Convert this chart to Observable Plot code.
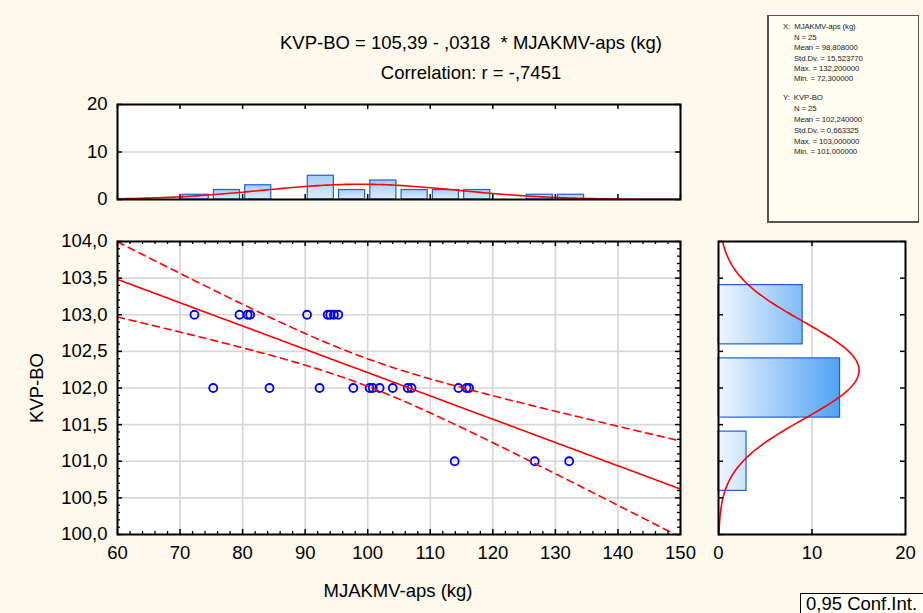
<!DOCTYPE html>
<html><head><meta charset="utf-8">
<script src="https://cdn.jsdelivr.net/npm/d3@7"></script>
<script src="https://cdn.jsdelivr.net/npm/@observablehq/plot@0.6"></script>
<style>
html,body{margin:0;padding:0;background:#fdf8ec;}
#wrap{position:relative;width:923px;height:613px;background:#fdf8ec;font-family:"Liberation Sans",Arial,sans-serif;color:#000;overflow:hidden;}
.abs{position:absolute;white-space:pre;line-height:1.15;}
#stats{position:absolute;left:767px;top:15px;width:152px;height:208px;border:1px solid #555;border-left-width:2px;border-bottom-width:2px;background:#fffcf2;box-sizing:border-box;}
#stats div{position:absolute;font-size:7.8px;line-height:9px;color:#222;white-space:pre;letter-spacing:-0.1px;}
#ci{position:absolute;left:800px;top:593px;width:123px;height:20px;border:1.5px solid #000;border-right:none;border-bottom:none;background:#fffdf6;box-sizing:border-box;font-size:18.5px;line-height:17px;padding:1px 0 0 5px;white-space:pre;}
svg{position:absolute;overflow:visible;}
</style></head>
<body><div id="wrap"></div>
<script>
// ---------- data ----------
const mjakmv = [72.3, 79.5, 80.8, 81.2, 90.3, 93.6, 94.0, 94.6, 95.3,
                75.3, 84.3, 92.3, 97.7, 100.3, 100.8, 101.9, 104.0, 106.4, 107.0, 114.5, 115.8, 116.2,
                113.9, 126.7, 132.2];
const kvpbo = [103, 103, 103, 103, 103, 103, 103, 103, 103,
               102, 102, 102, 102, 102, 102, 102, 102, 102, 102, 102, 102, 102,
               101, 101, 101];
const intercept = 105.39, slope = -0.0318, corr = -0.7451;
const nObs = 25;
const xMean = 98.808, xSD = 15.52377, xMax = 132.2, xMin = 72.3;
const yMean = 102.24, ySD = 0.663325, yMax = 103.0, yMin = 101.0;
const xTicks = [60, 70, 80, 90, 100, 110, 120, 130, 140, 150];
const yTicks = [100, 100.5, 101, 101.5, 102, 102.5, 103, 103.5, 104];
const countTicks = [0, 10, 20];
const xBinEdges = [70, 75, 80, 85, 90, 95, 100, 105, 110, 115, 120, 125, 130, 135];
const yBinEdges = [100.5, 101.5, 102.5, 103.5];
const confLevel = 0.95, tCrit = 2.0687;

// ---------- helpers ----------
const comma = f => v => d3.format(f)(v).replace(".", ",");
const wrap = document.getElementById("wrap");
const FONT = "Liberation Sans, Arial, sans-serif";
const FS = "18.5px";
const pdf = (v, m, s) => Math.exp(-0.5 * ((v - m) / s) ** 2) / (s * Math.sqrt(2 * Math.PI));
function place(svg, left, top) { svg.style.left = left + "px"; svg.style.top = top + "px"; wrap.appendChild(svg); }
function addGradient(svg, id, attrs, stops) {
  const defs = d3.create("svg:defs");
  const g = defs.append("linearGradient").attr("id", id);
  Object.entries(attrs).forEach(([k, v]) => g.attr(k, v));
  stops.forEach(([o, c]) => g.append("stop").attr("offset", o).attr("stop-color", c));
  svg.insertBefore(defs.node(), svg.firstChild);
}
function edgeTicksX(vals, H, len, sw) {
  return [Plot.tickX(vals, {x: d => d, insetTop: H - len, stroke: "#000", strokeWidth: sw}),
          Plot.tickX(vals, {x: d => d, insetBottom: H - len, stroke: "#000", strokeWidth: sw})];
}
function edgeTicksY(vals, W, len, sw) {
  return [Plot.tickY(vals, {y: d => d, insetLeft: W - len, stroke: "#000", strokeWidth: sw}),
          Plot.tickY(vals, {y: d => d, insetRight: W - len, stroke: "#000", strokeWidth: sw})];
}
const styleBase = {background: "transparent", fontFamily: FONT, fontSize: FS, color: "#000", overflow: "visible"};

// ---------- derived ----------
const points = mjakmv.map((x, i) => ({x, y: kvpbo[i]}));
const sRes = ySD * Math.sqrt((1 - corr * corr) * (nObs - 1) / (nObs - 2));
const sxx = (nObs - 1) * xSD * xSD;
const xs = d3.range(60, 150.001, 0.5);
const fit = xs.map(x => ({x, y: intercept + slope * x}));
const half = x => tCrit * sRes * Math.sqrt(1 / nObs + (x - xMean) ** 2 / sxx);
const ciUp = xs.map(x => ({x, y: intercept + slope * x + half(x)}));
const ciLo = xs.map(x => ({x, y: intercept + slope * x - half(x)}));
const xMinor = d3.range(60, 150.001, 2).filter(v => v % 10 !== 0);
const yMinor = d3.range(1000, 1040.001, 1).map(v => v / 10).filter(v => Math.abs(v * 2 - Math.round(v * 2)) > 1e-6);

// ---------- main scatter ----------
const mainH = 293, mainW = 563;
const main = Plot.plot({
  width: 700, height: 380, marginLeft: 117, marginRight: 20, marginTop: 16, marginBottom: 71,
  style: styleBase,
  x: {domain: [60, 150]}, y: {domain: [100, 104]},
  marks: [
    Plot.frame({fill: "#fff", stroke: "none"}),
    Plot.gridX(xTicks.slice(1, -1), {stroke: "#d6d6d6", strokeOpacity: 1, strokeWidth: 1.6}),
    Plot.gridY(yTicks.slice(1, -1), {stroke: "#d6d6d6", strokeOpacity: 1, strokeWidth: 1.6}),
    Plot.dot(points, {x: "x", y: "y", r: 4, stroke: "#0000ff", strokeWidth: 1.8, fill: "none"}),
    Plot.line(fit, {x: "x", y: "y", stroke: "#ff0000", strokeWidth: 1.6, clip: true}),
    Plot.line(ciUp, {x: "x", y: "y", stroke: "#ff0000", strokeWidth: 1.6, strokeDasharray: "7,5", clip: true}),
    Plot.line(ciLo, {x: "x", y: "y", stroke: "#ff0000", strokeWidth: 1.6, strokeDasharray: "7,5", clip: true}),
    ...edgeTicksX(xMinor, mainH, 3, 1.3),
    ...edgeTicksX(xTicks, mainH, 5, 1.5),
    ...edgeTicksY(yMinor, mainW, 3, 1.3),
    ...edgeTicksY(yTicks, mainW, 5, 1.5),
    Plot.frame({stroke: "#000", strokeWidth: 2}),
    Plot.axisX(xTicks, {tickSize: 0, tickPadding: 11, label: null, tickFormat: d => String(d)}),
    Plot.axisY(yTicks, {tickSize: 0, tickPadding: 10, label: null, tickFormat: comma(".1f")})
  ]
});
place(main, 0, 225);

// ---------- top histogram ----------
const xBins = d3.bin().domain([xBinEdges[0], xBinEdges[xBinEdges.length - 1]]).thresholds(xBinEdges.slice(1, -1))(mjakmv).filter(b => b.length > 0);
const binW = xBinEdges[1] - xBinEdges[0];
const xCurve = xs.map(x => ({x, y: nObs * binW * pdf(x, xMean, xSD)}));
const topH = 95;
const topHist = Plot.plot({
  width: 700, height: 122, marginLeft: 117, marginRight: 20, marginTop: 14, marginBottom: 13,
  style: styleBase,
  x: {domain: [60, 150], axis: null}, y: {domain: [0, 20]},
  marks: [
    Plot.frame({fill: "#fff", stroke: "none"}),
    Plot.gridY([10], {stroke: "#d6d6d6", strokeOpacity: 1, strokeWidth: 1.6}),
    Plot.rectY(xBins, {x1: b => b.x0, x2: b => b.x1, y: b => b.length, insetLeft: 2.6, insetRight: 2.6,
      fill: "url(#gTop)", stroke: "#1f5fd0", strokeWidth: 1.2}),
    Plot.line(xCurve, {x: "x", y: "y", stroke: "#ff0000", strokeWidth: 1.6, clip: true}),
    ...edgeTicksX(xTicks, topH, 5, 1.5),
    ...edgeTicksY(countTicks, mainW, 5, 1.5),
    Plot.frame({stroke: "#000", strokeWidth: 2}),
    Plot.axisY(countTicks, {tickSize: 0, tickPadding: 10, label: null, tickFormat: d => String(d)})
  ]
});
addGradient(topHist, "gTop", {x1: "0", y1: "0", x2: "0", y2: "1"}, [["0", "#a6cdf7"], ["1", "#dcecfc"]]);
place(topHist, 0, 90);

// ---------- right histogram ----------
const yBins = d3.bin().domain([yBinEdges[0], yBinEdges[yBinEdges.length - 1]]).thresholds(yBinEdges.slice(1, -1))(kvpbo);
const yBinW = yBinEdges[1] - yBinEdges[0];
const yCurve = d3.range(100, 104.0001, 0.02).map(y => ({y, x: nObs * yBinW * pdf(y, yMean, ySD)}));
const rW = 187;
const rightHist = Plot.plot({
  width: 223, height: 345, marginLeft: 18, marginRight: 18, marginTop: 16, marginBottom: 36,
  style: styleBase,
  x: {domain: [0, 20]}, y: {domain: [100, 104], axis: null},
  marks: [
    Plot.frame({fill: "#fff", stroke: "none"}),
    Plot.gridX([10], {stroke: "#d6d6d6", strokeOpacity: 1, strokeWidth: 1.6}),
    Plot.rectX(yBins, {y1: b => b.x0, y2: b => b.x1, x: b => b.length, insetTop: 7, insetBottom: 7,
      fill: "url(#gRight)", stroke: "#1f5fd0", strokeWidth: 1.2}),
    Plot.line(yCurve, {x: "x", y: "y", stroke: "#ff0000", strokeWidth: 1.6, clip: true}),
    ...edgeTicksY(yTicks, rW, 5, 1.5),
    ...edgeTicksX([10], mainH, 5, 1.5),
    Plot.frame({stroke: "#000", strokeWidth: 2}),
    Plot.axisX(countTicks, {tickSize: 0, tickPadding: 11, label: null, tickFormat: d => String(d)})
  ]
});
addGradient(rightHist, "gRight", {gradientUnits: "userSpaceOnUse", x1: "18", y1: "0", x2: "140", y2: "0"}, [["0", "#f0f6fe"], ["1", "#4fa2f5"]]);
place(rightHist, 700, 225);

// ---------- texts ----------
function text(str, css) {
  const d = document.createElement("div");
  d.className = "abs"; d.textContent = str;
  Object.assign(d.style, css);
  wrap.appendChild(d);
  return d;
}
const fmt4 = v => d3.format(".4f")(Math.abs(v)).replace("0.", ",");
text(`KVP-BO = ${comma(".2f")(intercept)} - ${fmt4(slope)}  * MJAKMV-aps (kg)`,
  {left: "471px", top: "32px", transform: "translateX(-50%)", fontSize: FS});
text(`Correlation: r = -${fmt4(corr)}`,
  {left: "471px", top: "62px", transform: "translateX(-50%)", fontSize: FS});
text("MJAKMV-aps (kg)", {left: "398px", top: "580px", transform: "translateX(-50%)", fontSize: FS});
text("KVP-BO", {left: "37px", top: "388px", transform: "translate(-50%,-50%) rotate(-90deg)", fontSize: FS});

// stats box
const stats = document.createElement("div"); stats.id = "stats"; wrap.appendChild(stats);
const f6 = comma(".6f");
const lines = [
  [14, 6, "X:  MJAKMV-aps (kg)"], [25, 16.5, `N = ${nObs}`], [25, 27, `Mean = ${f6(xMean)}`],
  [25, 37.5, `Std.Dv. = ${f6(xSD)}`], [25, 48, `Max. = ${f6(xMax)}`], [25, 58, `Min. = ${f6(xMin)}`],
  [14, 77, "Y:  KVP-BO"], [25, 88, `N = ${nObs}`], [25, 99, `Mean = ${f6(yMean)}`],
  [25, 110, `Std.Dv. = ${f6(ySD)}`], [25, 120.5, `Max. = ${f6(yMax)}`], [25, 130.5, `Min. = ${f6(yMin)}`]
];
lines.forEach(([l, t, s]) => { const d = document.createElement("div"); d.textContent = s; d.style.left = l + "px"; d.style.top = t + "px"; stats.appendChild(d); });

const ci = document.createElement("div"); ci.id = "ci"; ci.textContent = `${comma(".2f")(confLevel)} Conf.Int.`; wrap.appendChild(ci);
</script>
</body></html>
